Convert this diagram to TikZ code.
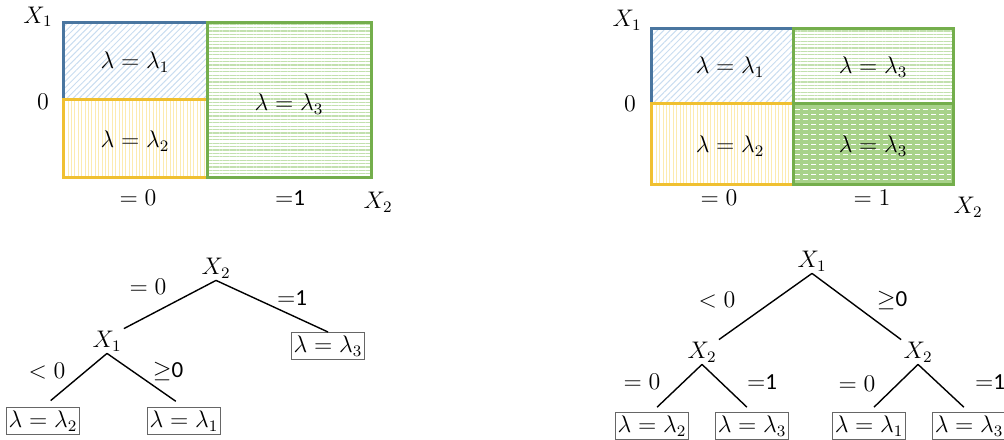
\documentclass[tikz,border=0pt]{standalone}
\usepackage{fontspec}
\setmainfont{Carlito}
\usetikzlibrary{patterns.meta}
\definecolor{regblue}{HTML}{4A76A0}
\definecolor{hatchblue}{HTML}{C9DDF0}
\definecolor{regyellow}{HTML}{F0C030}
\definecolor{hatchyellow}{HTML}{FCEBB0}
\definecolor{reggreen}{HTML}{74AE4C}
\definecolor{hatchgreen}{HTML}{C2E0AE}
\definecolor{fillgreen}{HTML}{A8D28A}
\tikzset{
  every node/.append style={font=\fontsize{11.5}{13}\selectfont},
  region/.style={line width=1.5pt},
  leaf/.style={draw=black!60, line width=0.5pt, inner sep=1.2pt, minimum height=13.5pt},
  split/.style={inner sep=1pt},
  edge/.style={line width=0.7pt},
}
\begin{document}
\begin{tikzpicture}[x=0.5pt,y=-0.5pt]
\useasboundingbox (0,0) rectangle (1004,439);
% left partition
\path[pattern={Lines[angle=45,distance=2.2pt,line width=0.5pt]}, pattern color=hatchblue] (63,22) rectangle (207,99);
\path[pattern={Lines[angle=90,distance=1.7pt,line width=0.5pt]}, pattern color=hatchyellow] (63,99) rectangle (207,177);
\path[pattern={Lines[angle=0,distance=1.7pt,line width=0.6pt]}, pattern color=hatchgreen] (207,22) rectangle (371,177);
\draw[region, regblue] (63,22) rectangle (207,99);
\draw[region, regyellow] (63,99) rectangle (207,177);
\draw[region, reggreen] (207,22) rectangle (371,177);
\node (a1) at (135,62) {$\lambda = \lambda_1$};
\node (a2) at (135,141) {$\lambda = \lambda_2$};
\node (a3) at (289,104) {$\lambda = \lambda_3$};
\node (ax1) at (38,17) {$X_1$};
\node (ay0) at (43,102) {$0$};
\node (ax0) at (138,198) {$= 0$};
\node (ax01) at (290,198) {$=$1};
\node (ax2) at (378,202) {$X_2$};
% right partition
\path[pattern={Lines[angle=45,distance=2.2pt,line width=0.5pt]}, pattern color=hatchblue] (651,28) rectangle (793,103);
\path[pattern={Lines[angle=90,distance=1.7pt,line width=0.5pt]}, pattern color=hatchyellow] (651,103) rectangle (793,184);
\path[pattern={Lines[angle=0,distance=1.7pt,line width=0.6pt]}, pattern color=hatchgreen] (793,28) rectangle (953,103);
\fill[fillgreen] (793,103) rectangle (953,184);
\foreach \y in {109,114,...,180}
  \draw[white, line width=0.5pt, dash pattern=on 2.5pt off 1.5pt] (795,\y) -- (951,\y);
\draw[region, regblue] (651,28) rectangle (793,103);
\draw[region, regyellow] (651,103) rectangle (793,184);
\draw[region, reggreen] (793,28) rectangle (953,103);
\draw[region, reggreen] (793,103) rectangle (953,184);
\node (b1) at (730,67) {$\lambda = \lambda_1$};
\node (b3) at (873,67) {$\lambda = \lambda_3$};
\node (b2) at (730,146) {$\lambda = \lambda_2$};
\node (b4) at (873,146) {$\lambda = \lambda_3$};
\node (bx1) at (627,20) {$X_1$};
\node (by0) at (630,104) {$0$};
\node (bx0) at (719,198) {$= 0$};
\node (bx01) at (872,198) {$= 1$};
\node (bx2) at (968,207) {$X_2$};
% left tree
\node[split] (s2) at (216,268) {$X_2$};
\node[split] (s1) at (107,341) {$X_1$};
\node[leaf] (p3) at (328,346) {$\lambda = \lambda_3$};
\node[leaf] (p2) at (43,421) {$\lambda = \lambda_2$};
\node[leaf] (p1) at (184,421) {$\lambda = \lambda_1$};
\draw[edge] (s2.south) -- (s1.north east);
\draw[edge] (s2.south) -- (p3.north);
\draw[edge, shorten >=5pt] (s1.south) -- (p2.north);
\draw[edge, shorten >=5pt] (s1.south) -- (p1.north);
\node (e1) at (148,287) {$= 0$};
\node (e2) at (292,298) {$=$1};
\node (e3) at (47,371) {$< 0$};
\node (e4) at (168,371) {$\geq$0};
% right tree
\node[split] (r1) at (812,261) {$X_1$};
\node[split] (ra) at (702,352) {$X_2$};
\node[split] (rb) at (918,352) {$X_2$};
\node[leaf] (q2) at (652,426) {$\lambda = \lambda_2$};
\node[leaf] (q3) at (752,426) {$\lambda = \lambda_3$};
\node[leaf] (q1) at (869,426) {$\lambda = \lambda_1$};
\node[leaf] (q4) at (969,426) {$\lambda = \lambda_3$};
\draw[edge] (r1.south) -- (ra.north east);
\draw[edge] (r1.south) -- (rb.north west);
\draw[edge, shorten >=3.5pt] (ra.south) -- (q2.north);
\draw[edge, shorten >=3.5pt] (ra.south) -- (q3.north);
\draw[edge, shorten >=3.5pt] (rb.south) -- (q1.north);
\draw[edge, shorten >=3.5pt] (rb.south) -- (q4.north);
\node (f1) at (717,300) {$< 0$};
\node (f2) at (892,300) {$\geq$0};
\node (f3) at (642,382) {$= 0$};
\node (f4) at (762,382) {$=$1};
\node (f5) at (857,384) {$= 0$};
\node (f6) at (990,382) {$=$1};
\end{tikzpicture}
\end{document}
